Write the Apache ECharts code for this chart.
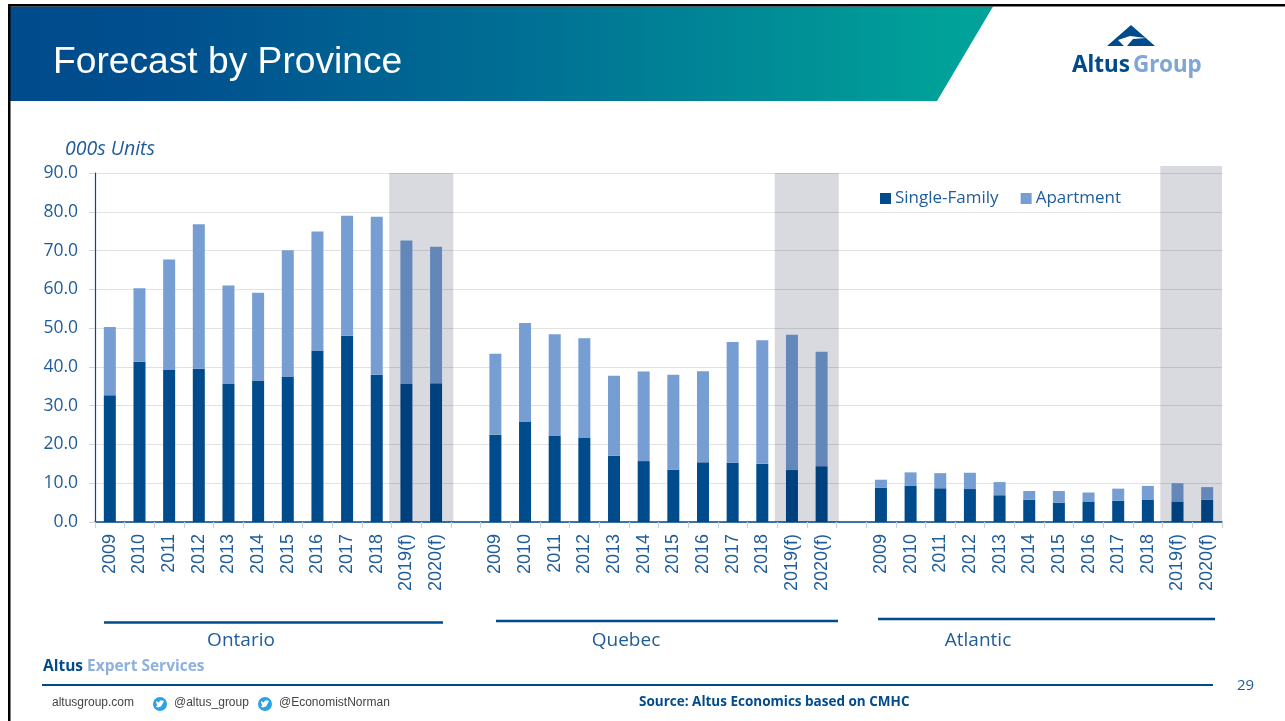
<!DOCTYPE html>
<html><head><meta charset="utf-8">
<style>html,body{margin:0;padding:0;background:#fff}#c{width:1285px;height:721px}</style>
<script src="https://cdn.jsdelivr.net/npm/echarts@6/dist/echarts.min.js"></script>
</head><body><div id="c"></div>
<script>
const years = ['2009','2010','2011','2012','2013','2014','2015','2016','2017','2018','2019(f)','2020(f)'];
const categories = [...years, ' ', ...years, '  ', ...years];
const singleOntario = [32.7,41.3,39.2,39.5,35.7,36.5,37.5,44.2,48.0,38.0,35.7,35.8];
const apartmentOntario = [17.6,19.0,28.5,37.3,25.3,22.6,32.6,30.7,31.0,40.7,36.9,35.2];
const singleQuebec = [22.5,25.8,22.3,21.8,17.1,15.7,13.5,15.4,15.3,15.0,13.4,14.4];
const apartmentQuebec = [20.9,25.5,26.1,25.6,20.6,23.1,24.5,23.5,31.1,31.9,34.9,29.5];
const singleAtlantic = [8.8,9.4,8.7,8.5,6.9,5.7,5.0,5.3,5.5,5.8,5.3,5.7];
const apartmentAtlantic = [2.1,3.4,3.9,4.2,3.4,2.3,3.0,2.3,3.1,3.5,4.7,3.3];
const forecastBands = [[10,11,90],[23,24,90],[36,37,91.8]];
const singleValues = [...singleOntario, null, ...singleQuebec, null, ...singleAtlantic];
const apartmentValues = [...apartmentOntario, null, ...apartmentQuebec, null, ...apartmentAtlantic];

const navy='#004b8b', light='#769ed2', txt='#1f5c9a';
const chart = echarts.init(document.getElementById('c'), null, {renderer:'canvas'});
const sans='"Open Sans","Noto Sans",sans-serif', lib='"Liberation Sans",Arial,sans-serif';
function T(x,y,text,size,fill,opt){return {type:'text',x,y,silent:true,z:20,style:Object.assign({text,fontSize:size,fill,fontFamily:sans,textVerticalAlign:'middle'},opt||{})};}
function L(x1,y1,x2,y2,w,c){return {type:'line',silent:true,z:20,shape:{x1,y1,x2,y2},style:{stroke:c||navy,lineWidth:w}};}
function bird(cx,cy){return [
 {type:'circle',silent:true,z:20,shape:{cx,cy,r:7},style:{fill:'#2aa3e0'}},
 {type:'polygon',silent:true,z:21,shape:{points:[[cx-4,cy-3],[cx-1,cy-1.5],[cx,cy-3.5],[cx+2.5,cy-3.5],[cx+4,cy-3],[cx+3,cy-1],[cx+1,cy+2.5],[cx-2,cy+3.5],[cx-4.5,cy+2.5],[cx-2.5,cy+1.5],[cx-3.5,cy]]},style:{fill:'#fff'}}
];}
chart.setOption({
 animation:false,
 textStyle:{fontFamily:sans},
 grid:{left:95,right:63,top:173,bottom:199,containLabel:false},
 legend:{left:875,top:185,itemWidth:11,itemHeight:11,itemGap:22,icon:'rect',data:['Single-Family','Apartment'],
   textStyle:{color:txt,fontSize:17,fontFamily:sans,padding:[0,0,0,-1]}},
 xAxis:{type:'category',data:categories,
   axisLine:{show:true,lineStyle:{color:navy,width:1.5}},
   axisTick:{show:true,length:6,alignWithLabel:false,interval:0,lineStyle:{color:'#c5d3e3',width:1.2}},
   axisLabel:{interval:0,rotate:90,margin:12,fontSize:18,color:txt,fontFamily:lib,padding:[6,0,0,0]}},
 yAxis:{type:'value',min:0,max:90,interval:10,
   name:'000s Units',nameLocation:'end',nameGap:14,
   nameTextStyle:{color:txt,fontStyle:'italic',fontSize:19.5,fontFamily:sans,align:'left',padding:[0,0,0,-30]},
   axisLine:{show:true,lineStyle:{color:navy,width:1.2}},
   axisTick:{show:true,length:6,lineStyle:{color:'#d4d4d4',width:1}},
   axisLabel:{margin:17,fontSize:17.5,color:txt,fontFamily:sans,formatter:v=>v.toFixed(1)},
   splitLine:{show:true,lineStyle:{color:'#e2e2e2',width:1.2}}},
 series:[
  {name:'Single-Family',type:'bar',stack:'t',barWidth:12,itemStyle:{color:navy},data:singleValues},
  {name:'Apartment',type:'bar',stack:'t',barWidth:12,itemStyle:{color:light},data:apartmentValues},
  {name:'Forecast',type:'custom',z:10,silent:true,data:forecastBands,encode:{x:[0,1],y:2},clip:false,
   renderItem(params,api){
     const a=api.coord([api.value(0),api.value(2)]), b=api.coord([api.value(1),0]);
     const w=api.size([1,0])[0], cs=params.coordSys;
     const x0=a[0]-w*0.58, x1=Math.min(b[0]+w*0.58,cs.x+cs.width);
     return {type:'rect',shape:{x:x0,y:a[1],width:x1-x0,height:b[1]-a[1]},style:{fill:'rgba(0,5,48,0.15)'}};
   }}
 ],
 graphic:[
  {type:'rect',silent:true,z:19,shape:{x:8,y:4,width:1277,height:2.5},style:{fill:'#000'}},
  {type:'rect',silent:true,z:19,shape:{x:8,y:4,width:2.5,height:717},style:{fill:'#000'}},
  {type:'polygon',silent:true,z:18,shape:{points:[[10,6.5],[993,6.5],[937,101],[10,101]]},
   style:{fill:new echarts.graphic.LinearGradient(0,0,1,0,[{offset:0,color:'#004b8b'},{offset:0.15,color:'#004f8e'},{offset:0.5,color:'#006d94'},{offset:0.95,color:'#00a199'},{offset:1,color:'#00a399'}])}},
  T(53,63,'Forecast by Province',37.2,'#fff',{fontFamily:lib}),
  {type:'polygon',silent:true,z:20,shape:{points:[[1131,25],[1155,46],[1107,46]]},style:{fill:navy}},
  {type:'polygon',silent:true,z:21,shape:{points:[[1118,40],[1130,36],[1146,38],[1133,39],[1127,46],[1124,46]]},style:{fill:'#fff'}},
  T(1072,66,'Altus',22.5,navy,{fontWeight:'bold',fontFamily:'"Noto Sans",sans-serif'}),
  T(1133,66,'Group',22.5,'#7fa6d8',{fontWeight:'bold',fontFamily:'"Noto Sans",sans-serif'}),
  L(104,622.5,443,622.5,2.5), L(496,621,838,621,2.5), L(878,619,1215,619,2.5),
  T(241,641,'Ontario',19,txt,{textAlign:'center'}),
  T(626,641,'Quebec',19,txt,{textAlign:'center'}),
  T(978,641,'Atlantic',19,txt,{textAlign:'center'}),
  T(43,667,'Altus',15.5,navy,{fontWeight:'bold'}),
  T(87,667,'Expert Services',15.5,'#8fb0dc',{fontWeight:'bold'}),
  L(42,685,1213,685,2),
  T(52,703,'altusgroup.com',12,'#444',{fontFamily:lib}),
  ...bird(160,704),
  T(174,703,'@altus_group',12,'#444',{fontFamily:lib}),
  ...bird(265,704),
  T(279,703,'@EconomistNorman',12,'#444',{fontFamily:lib}),
  T(639,702,'Source: Altus Economics based on CMHC',13.5,navy,{fontWeight:'bold'}),
  T(1237,686,'29',15,txt)
 ]
});
</script></body></html>
